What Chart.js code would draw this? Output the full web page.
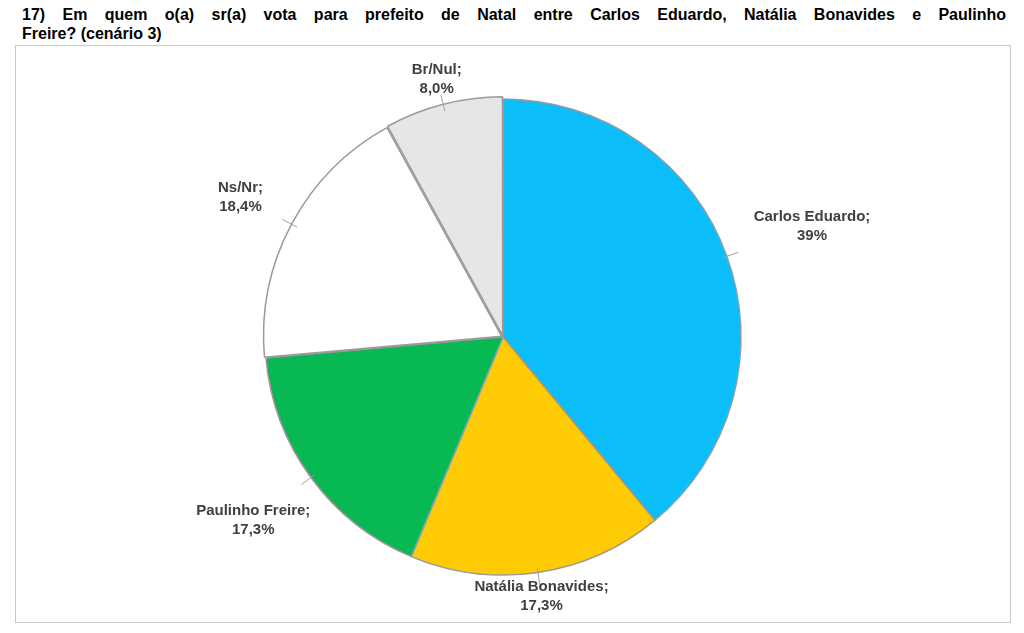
<!DOCTYPE html>
<html><head><meta charset="utf-8">
<script src="https://cdn.jsdelivr.net/npm/chart.js@4"></script>
<style>
body{margin:0;width:1024px;height:633px;background:#fff;font-family:"Liberation Sans",Arial,sans-serif;position:relative;overflow:hidden}
.t{position:absolute;left:22px;width:984px;font-weight:bold;font-size:16px;line-height:19px;color:#000;white-space:nowrap}
#t1{top:5px;text-align:justify;text-align-last:justify;white-space:normal}
#t2{top:24px}
#box{position:absolute;left:15px;top:45px;width:994px;height:576px;border:1px solid #c8c8c8}
canvas{position:absolute;left:0;top:0}
</style></head><body>
<div class="t" id="t1">17) Em quem o(a) sr(a) vota para prefeito de Natal entre Carlos Eduardo, Natália Bonavides e Paulinho</div>
<div class="t" id="t2">Freire? (cenário 3)</div>
<div id="box"></div>
<canvas id="c" width="1024" height="633"></canvas>
<script>
const labels = ['Carlos Eduardo', 'Natália Bonavides', 'Paulinho Freire', 'Ns/Nr', 'Br/Nul'];
const values = [39, 17.3, 17.3, 18.4, 8.0];
const valueText = ['39%', '17,3%', '17,3%', '18,4%', '8,0%'];
const colors = ['#0BBEF9', '#FFCB05', '#07B853', '#FFFFFF', '#E6E6E6'];
const labelDist = [1.38, 1.1, 1.3, 1.25, 1.12];

const outLabels = {
    id: 'outLabels',
    afterDatasetsDraw(chart) {
        const ctx = chart.ctx;
        const arcs = chart.getDatasetMeta(0).data;
        ctx.save();
        ctx.font = 'bold 15px "Liberation Sans", Arial, sans-serif';
        ctx.fillStyle = '#404040';
        ctx.textAlign = 'center';
        ctx.textBaseline = 'middle';
        arcs.forEach((a, i) => {
            const mid = (a.startAngle + a.endAngle) / 2;
            const r = a.outerRadius * labelDist[i];
            const x = a.x + Math.cos(mid) * r;
            const y = a.y + Math.sin(mid) * r;
            // leader line
            ctx.strokeStyle = '#a0a0a0';
            ctx.lineWidth = 1;
            ctx.beginPath();
            ctx.moveTo(a.x + Math.cos(mid) * a.outerRadius * 0.98, a.y + Math.sin(mid) * a.outerRadius * 0.98);
            ctx.lineTo(a.x + Math.cos(mid) * a.outerRadius * 1.05, a.y + Math.sin(mid) * a.outerRadius * 1.05);
            ctx.stroke();
            ctx.fillText(labels[i] + ';', x, y - 9);
            ctx.fillText(valueText[i], x, y + 10);
        });
        ctx.restore();
    }
};

new Chart(document.getElementById('c'), {
    type: 'pie',
    data: {
        labels: labels,
        datasets: [{
            data: values,
            backgroundColor: colors,
            borderColor: '#9a9a9a',
            borderWidth: 1.5,
            offset: [0, 0, 0, 6, 6]
        }]
    },
    options: {
        responsive: false,
        animation: false,
        radius: 238,
        layout: { padding: { top: 41, right: 18 } },
        plugins: { legend: { display: false }, tooltip: { enabled: false } }
    },
    plugins: [outLabels]
});
</script>
</body></html>
